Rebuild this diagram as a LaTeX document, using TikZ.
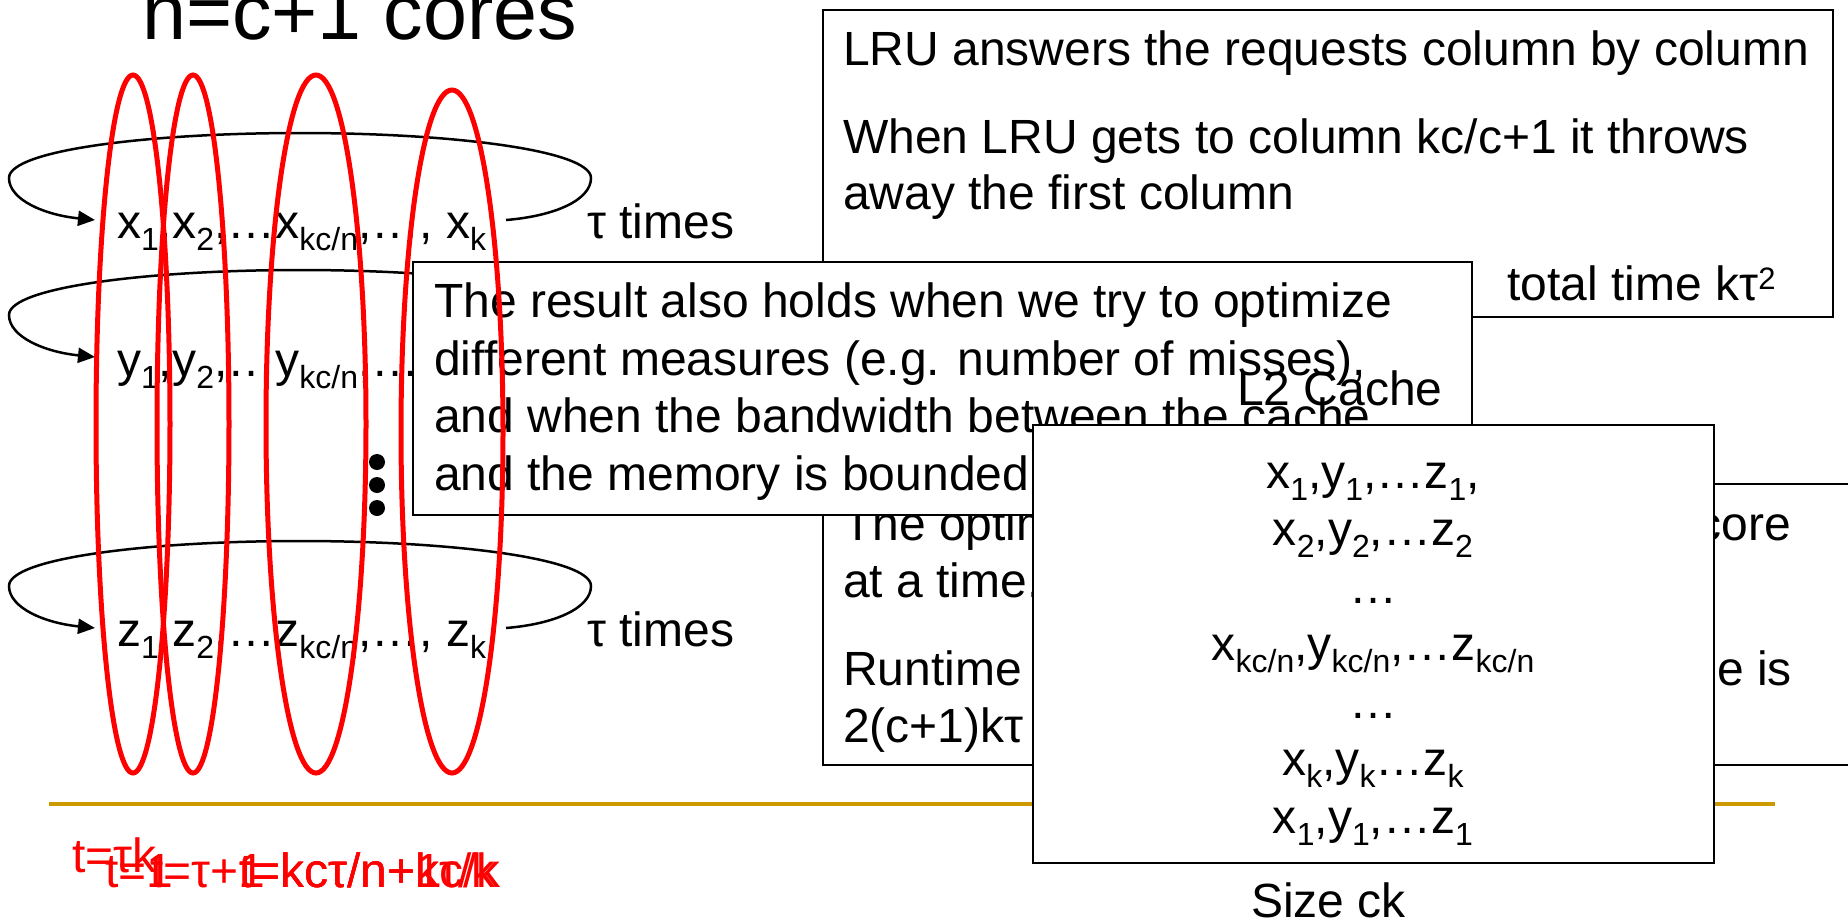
\documentclass[tikz,border=0pt]{standalone}
\usepackage{fontspec}
\setmainfont{Liberation Sans}
\usetikzlibrary{arrows.meta}
\newcommand{\myfs}[1]{\fontsize{#1pt}{#1pt}\selectfont}
\newcommand{\sbs}[1]{\raisebox{-12pt}{\myfs{32}#1}}
\newcommand{\sps}[1]{\raisebox{11pt}{\myfs{31}#1}}
\definecolor{gold}{RGB}{204,153,0}
\tikzset{
  txt/.style={inner sep=0pt, anchor=base west, font=\myfs{48}},
  rtxt/.style={inner sep=0pt, anchor=base east, font=\myfs{48}},
  ctxt/.style={inner sep=0pt, anchor=base, font=\myfs{48}},
  redtxt/.style={txt, text=red},
  panel/.style={draw=black, line width=2.5pt, fill=white},
  ring/.style={draw=red, line width=5pt},
  looparrow/.style={draw=black, line width=2.5pt, -{Triangle[length=17pt,width=15pt]}},
}
\begin{document}
\begin{tikzpicture}[x=1pt,y=-1pt]
\useasboundingbox (0,0) rectangle (1848,922);
\fill[white] (0,0) rectangle (1848,922);
\clip (0,0) rectangle (1848,922);

% title
\node[inner sep=0pt, anchor=base west, font=\myfs{79}] (title) at (142,39) {n=c+1 cores};

% loops
\coordinate (l1s) at (506,220); \coordinate (l1e) at (95,220);
\coordinate (l2s) at (506,357); \coordinate (l2e) at (95,357);
\coordinate (l3s) at (506,628); \coordinate (l3e) at (95,628);
\draw[looparrow] (l1s) .. controls (555,216) and (591,200) .. (591,178) .. controls (591,150) and (450,133) .. (300,133) .. controls (150,133) and (9,150) .. (9,178) .. controls (9,200) and (45,215) .. (l1e);
\draw[looparrow] (l2s) .. controls (555,353) and (591,337) .. (591,315) .. controls (591,287) and (450,270) .. (300,270) .. controls (150,270) and (9,287) .. (9,315) .. controls (9,337) and (45,352) .. (l2e);
\draw[looparrow] (l3s) .. controls (555,624) and (591,608) .. (591,586) .. controls (591,558) and (450,541) .. (300,541) .. controls (150,541) and (9,558) .. (9,586) .. controls (9,608) and (45,623) .. (l3e);

% rows
\node[txt] (rowx) at (117,238) {x\sbs{1},x\sbs{2},…x\sbs{kc/n},…, x\sbs{k}};
\node[txt] (rowy) at (117,376) {y\sbs{1},y\sbs{2},…y\sbs{kc/n},…, y\sbs{k}};
\node[txt] (rowz) at (117,646) {z\sbs{1},z\sbs{2},…z\sbs{kc/n},…, z\sbs{k}};
\node[txt] (tau1) at (587,238) {τ times};
\node[txt] (tau3) at (587,646) {τ times};

% vertical dots
\fill (377,462) circle [radius=8pt];
\fill (377,485) circle [radius=8pt];
\fill (377,508) circle [radius=8pt];

% box A
\draw[panel] (823,10) rectangle (1833,317);
\node[txt] (a1) at (843,65) {LRU answers the requests column by column};
\node[txt] (a2) at (843,153) {When LRU gets to column kc/c+1 it throws};
\node[txt] (a3) at (843,209) {away the first column};
\node[txt] (a4) at (1507,300) {total time kτ\sps{2}};

% box C
\draw[panel] (823,484) rectangle (1875,765);
\node[txt] (c1) at (843,540) {The optimal};
\node[rtxt] (c1r) at (1791,540) {one core};
\node[txt] (c2) at (843,597) {at a time.};
\node[txt] (c3) at (843,685) {Runtime};
\node[rtxt] (c3r) at (1792,685) {time is};
\node[txt] (c4) at (843,742) {2(c+1)kτ};

% box B
\draw[panel] (413,262) rectangle (1472,515);
\node[txt] (b1) at (434,317) {The result also holds when we try to optimize};
\node[txt] (b2) at (434,375) {different measures (e.g. number of misses),};
\node[txt] (b3) at (434,432) {and when the bandwidth between the cache};
\node[txt] (b4) at (434,490) {and the memory is bounded};

% L2 label
\node[txt] (l2lab) at (1237,405) {L2 Cache};

% gold rule
\draw[gold, line width=4pt] (49,804) -- (1775,804);

% L2 box
\draw[panel] (1033,425) rectangle (1714,863);
\node[ctxt] (m1) at (1373,488) {x\sbs{1},y\sbs{1},…z\sbs{1},};
\node[ctxt] (m2) at (1373,545) {x\sbs{2},y\sbs{2},…z\sbs{2}};
\node[ctxt] (m3) at (1373,603) {…};
\node[ctxt] (m4) at (1373,660) {x\sbs{kc/n},y\sbs{kc/n},…z\sbs{kc/n}};
\node[ctxt] (m5) at (1373,718) {…};
\node[ctxt] (m6) at (1373,775) {x\sbs{k},y\sbs{k}…z\sbs{k}};
\node[ctxt] (m7) at (1373,833) {x\sbs{1},y\sbs{1},…z\sbs{1}};
\node[txt] (size) at (1251,917) {Size ck};

% red ellipses
\draw[ring] (133,424) ellipse [x radius=37pt, y radius=349pt];
\draw[ring] (193,424) ellipse [x radius=36pt, y radius=349pt];
\draw[ring] (316,424) ellipse [x radius=50pt, y radius=349pt];
\draw[ring] (452,431.5) ellipse [x radius=51pt, y radius=341.5pt];

% red overlapping labels
\node[redtxt] (t1) at (72,872) {t=τk};
\node[redtxt] (t2) at (105,887) {t=1};
\node[redtxt] (t3) at (150,887) {t=τ+1};
\node[redtxt] (t4) at (239,887) {t=kcτ/n+1};
\node[redtxt] (t5) at (239,887) {t=kcτ/n+kc/k};
\node[redtxt] (t6) at (239,887) {t=kcτ/n+kτ/k};
\end{tikzpicture}
\end{document}
